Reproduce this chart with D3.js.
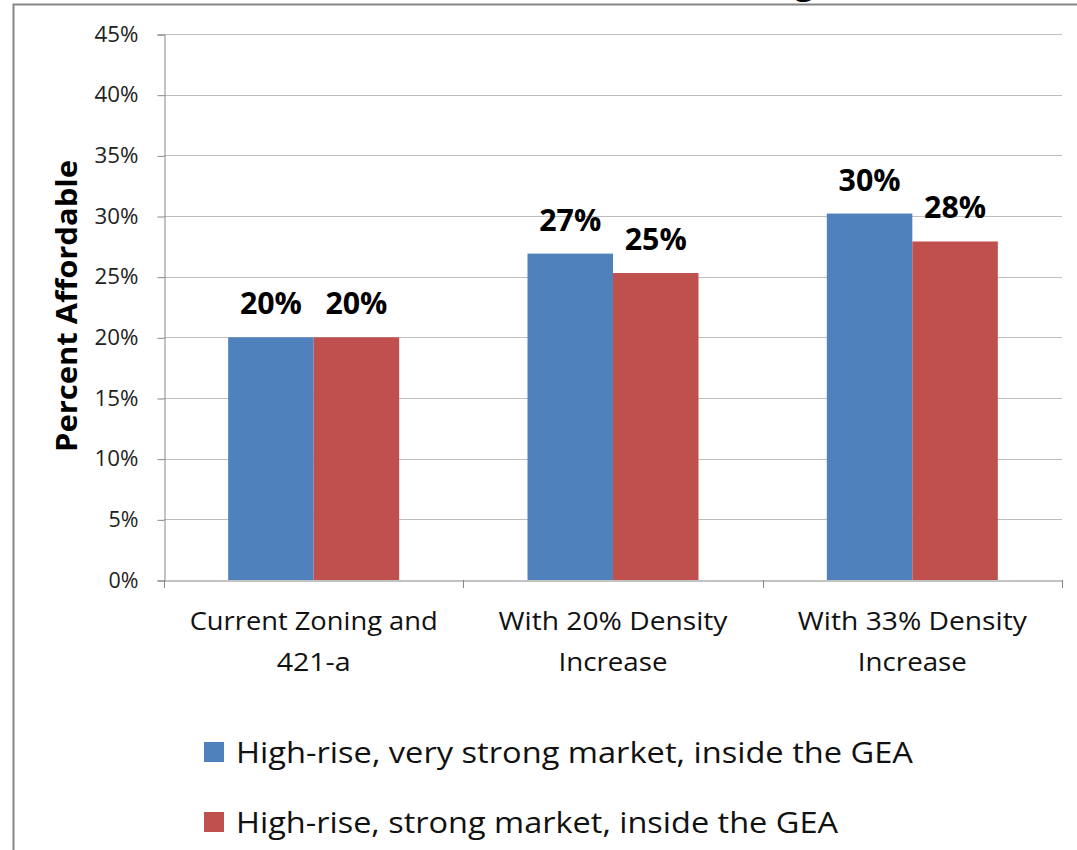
<!DOCTYPE html>
<html>
<head>
<meta charset="utf-8">
<script src="https://cdn.jsdelivr.net/npm/d3@7"></script>
<style>
  body { margin: 0; background: #fff; }
  svg { display: block; }
</style>
</head>
<body>
<svg id="chart" width="1077" height="850"></svg>
<script>
// ---- data ----
var categories = [["Current Zoning and", "421-a"], ["With 20% Density", "Increase"], ["With 33% Density", "Increase"]];
var seriesNames = ["High-rise, very strong market, inside the GEA", "High-rise, strong market, inside the GEA"];
var veryStrong = [20.0, 26.9, 30.2];
var strong = [20.0, 25.3, 27.9];
var barLabels = [["20%", "27%", "30%"], ["20%", "25%", "28%"]];
var yTicks = [0, 5, 10, 15, 20, 25, 30, 35, 40, 45];
var colors = ["#4F81BD", "#C0504D"];

function draw_chart() {
  var font = "'Open Sans', 'DejaVu Sans', sans-serif";
  var svg = d3.select("#chart");

  //==================== frame + clipped title ====================
  svg.append("text")
    .attr("x", 814).attr("y", -6)
    .attr("text-anchor", "end")
    .attr("font-family", font).attr("font-weight", "bold").attr("font-size", 34)
    .text("Percent Affordable Housing");

  svg.append("rect")
    .attr("x", 13.5).attr("y", 4.5)
    .attr("width", 1100).attr("height", 900)
    .attr("fill", "#fff").attr("fill-opacity", 0)
    .attr("stroke", "#868686").attr("stroke-width", 2);

  //==================== scales ====================
  var plotL = 164, plotR = 1062, plotT = 34, plotB = 580;

  var x0 = d3.scaleBand().domain(d3.range(categories.length)).range([plotL, plotR]);
  var y = d3.scaleLinear().domain([0, 45]).range([plotB, plotT]);

  var barW = 85.5;

  // gridlines
  svg.append("g").selectAll("line")
    .data(yTicks.filter(function(d) { return d > 0; }))
    .enter().append("line")
    .attr("x1", plotL).attr("x2", plotR)
    .attr("y1", function(d) { return Math.round(y(d)) + 0.5; })
    .attr("y2", function(d) { return Math.round(y(d)) + 0.5; })
    .attr("stroke", "#BEBEBE").attr("stroke-width", 1.2);

  // y axis
  var yAxis = d3.axisLeft(y).tickValues(yTicks).tickSize(7).tickPadding(19)
    .tickFormat(function(d) { return d + "%"; });
  var gy = svg.append("g").attr("transform", "translate(" + (plotL + 0.5) + ",0.5)").call(yAxis);
  gy.select(".domain").attr("stroke", "#868686");
  gy.selectAll(".tick line").attr("stroke", "#868686");
  gy.selectAll(".tick text")
    .attr("font-family", font).attr("font-size", 21).attr("fill", "#222")
    .attr("textLength", function(d) { return d < 10 ? 30 : 44; })
    .attr("lengthAdjust", "spacingAndGlyphs");

  // bars
  var series = [veryStrong, strong];
  series.forEach(function(vals, s) {
    svg.append("g").selectAll("rect")
      .data(vals)
      .enter().append("rect")
      .attr("x", function(d, i) { return x0(i) + x0.bandwidth() / 2 - barW + s * barW; })
      .attr("y", function(d) { return y(d); })
      .attr("width", barW)
      .attr("height", function(d) { return y(0) - y(d); })
      .attr("fill", colors[s]);

    svg.append("g").selectAll("text")
      .data(vals)
      .enter().append("text")
      .attr("x", function(d, i) { return x0(i) + x0.bandwidth() / 2 - barW / 2 + s * barW; })
      .attr("y", function(d) { return y(d) - 23; })
      .attr("text-anchor", "middle")
      .attr("font-family", font).attr("font-weight", "bold").attr("font-size", 30)
      .attr("textLength", 62).attr("lengthAdjust", "spacingAndGlyphs")
      .attr("fill", "#000")
      .text(function(d, i) { return barLabels[s][i]; });
  });

  // x axis
  var xAxis = d3.axisBottom(x0).tickSize(0).tickFormat("");
  var gx = svg.append("g").attr("transform", "translate(0," + (plotB + 0.5) + ")").call(xAxis);
  gx.select(".domain").attr("stroke", "#868686");
  svg.append("g").selectAll("line")
    .data(d3.range(categories.length + 1))
    .enter().append("line")
    .attr("x1", function(d) { return Math.round(plotL + d * x0.bandwidth()) + 0.5; })
    .attr("x2", function(d) { return Math.round(plotL + d * x0.bandwidth()) + 0.5; })
    .attr("y1", plotB).attr("y2", plotB + 8)
    .attr("stroke", "#868686");

  var catWidths = [[248, 74], [229, 109], [229, 109]];
  var catText = svg.append("g").selectAll("text")
    .data(categories)
    .enter().append("text")
    .attr("text-anchor", "middle")
    .attr("font-family", font).attr("font-size", 26).attr("fill", "#111");
  catText.each(function(lines, i) {
    var t = d3.select(this);
    lines.forEach(function(l, k) {
      t.append("tspan")
        .attr("x", x0(i) + x0.bandwidth() / 2)
        .attr("y", 630 + k * 41)
        .attr("textLength", catWidths[i][k]).attr("lengthAdjust", "spacingAndGlyphs")
        .text(l);
    });
  });

  // y axis title
  svg.append("text")
    .attr("transform", "translate(77,306) rotate(-90)")
    .attr("text-anchor", "middle")
    .attr("font-family", font).attr("font-weight", "bold").attr("font-size", 28)
    .attr("textLength", 292).attr("lengthAdjust", "spacingAndGlyphs")
    .text("Percent Affordable");

  //==================== legend ====================
  var legWidths = [677, 602];
  var legend = svg.append("g").selectAll("g")
    .data(seriesNames)
    .enter().append("g")
    .attr("transform", function(d, i) { return "translate(204," + (742 + i * 70) + ")"; });
  legend.append("rect")
    .attr("width", 20).attr("height", 20)
    .attr("fill", function(d, i) { return colors[i]; });
  legend.append("text")
    .attr("x", 32).attr("y", 21)
    .attr("font-family", font).attr("font-size", 30).attr("fill", "#111")
    .attr("textLength", function(d, i) { return legWidths[i]; })
    .attr("lengthAdjust", "spacingAndGlyphs")
    .text(function(d) { return d; });
}

draw_chart();
</script>
</body>
</html>
